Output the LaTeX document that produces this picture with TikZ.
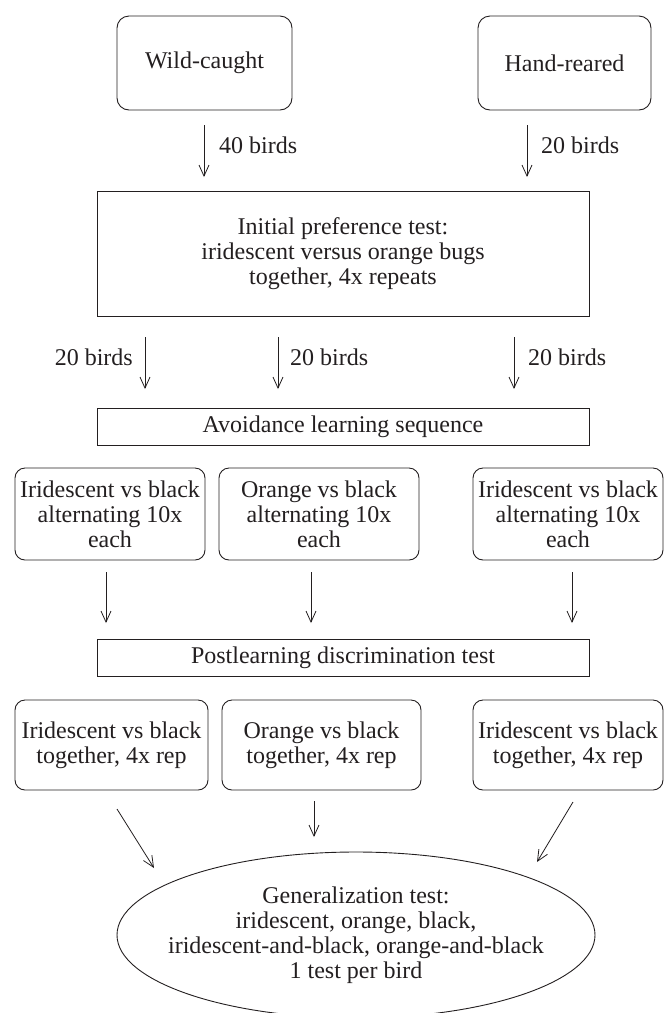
\documentclass[tikz,border=0pt]{standalone}
\usepackage{fontspec}
\setmainfont{Liberation Serif}
\usetikzlibrary{shapes.geometric,arrows.meta,calc}
\definecolor{ink}{HTML}{231F20}
\tikzset{
  every node/.style={font=\fontsize{24}{25}\selectfont, text=ink},
  rbox/.style={draw=ink, line width=0.9pt, rounded corners=12pt, align=center, inner sep=0pt},
  sbox/.style={draw=ink, line width=0.9pt, align=center, inner sep=0pt},
  ebox/.style={draw=ink, line width=0.9pt, ellipse, inner sep=0pt},
  lbl/.style={inner sep=0pt},
  arr/.style={draw=ink, line width=0.8pt, -{Straight Barb[length=11pt,width=10pt,line width=0.8pt]}}
}
\begin{document}
\begin{tikzpicture}[x=1pt,y=-1pt]
\useasboundingbox (0,0) rectangle (664,1013);
\clip (0,0) rectangle (664,1013);
% row 1
\node[rbox, minimum width=175pt, minimum height=94pt] (wild) at (204.5,63) {Wild-caught};
\node[rbox, minimum width=173pt, minimum height=94pt] (hand) at (564.5,63) {Hand-reared};
\node[sbox, minimum width=492pt, minimum height=125pt] (init) at (343,253.5)
  {Initial preference test:\\iridescent versus orange bugs\\together, 4x repeats};
\coordinate (a1s) at (204,125); \coordinate (a1e) at (204,177);
\coordinate (a2s) at (527,125); \coordinate (a2e) at (527,177);
\draw[arr] (a1s) -- (a1e);
\draw[arr] (a2s) -- (a2e);
\node[lbl, anchor=west] (l1) at (219,145) {40 birds};
\node[lbl, anchor=west] (l2) at (541,145) {20 birds};
% row 2
\node[sbox, minimum width=492pt, minimum height=37pt] (avoid) at (343,426.5) {Avoidance learning sequence};
\coordinate (b1s) at (145,337); \coordinate (b1e) at (145,389);
\coordinate (b2s) at (278,337); \coordinate (b2e) at (278,389);
\coordinate (b3s) at (514,337); \coordinate (b3e) at (514,389);
\draw[arr] (b1s) -- (b1e);
\draw[arr] (b2s) -- (b2e);
\draw[arr] (b3s) -- (b3e);
\node[lbl, anchor=east] (l3) at (133,357) {20 birds};
\node[lbl, anchor=west] (l4) at (290,357) {20 birds};
\node[lbl, anchor=west] (l5) at (528,357) {20 birds};
% learning boxes
\node[rbox, rounded corners=10pt, minimum width=190pt, minimum height=92pt] (L1) at (110,514)
  {Iridescent vs black\\alternating 10x\\each};
\node[rbox, rounded corners=10pt, minimum width=200pt, minimum height=92pt] (L2) at (319,514)
  {Orange vs black\\alternating 10x\\each};
\node[rbox, rounded corners=10pt, minimum width=190pt, minimum height=92pt] (L3) at (568,514)
  {Iridescent vs black\\alternating 10x\\each};
% postlearning
\node[sbox, minimum width=492pt, minimum height=37pt] (post) at (343,657.5) {Postlearning discrimination test};
\coordinate (c1s) at (106,572); \coordinate (c1e) at (106,623);
\coordinate (c2s) at (311,572); \coordinate (c2e) at (311,623);
\coordinate (c3s) at (572,572); \coordinate (c3e) at (572,623);
\draw[arr] (c1s) -- (c1e);
\draw[arr] (c2s) -- (c2e);
\draw[arr] (c3s) -- (c3e);
% test boxes
\node[rbox, rounded corners=10pt, minimum width=193pt, minimum height=90pt] (T1) at (111.5,745)
  {Iridescent vs black\\together, 4x rep};
\node[rbox, rounded corners=10pt, minimum width=199pt, minimum height=90pt] (T2) at (321.5,745)
  {Orange vs black\\together, 4x rep};
\node[rbox, rounded corners=10pt, minimum width=190pt, minimum height=90pt] (T3) at (568,745)
  {Iridescent vs black\\together, 4x rep};
% generalization
\node[ebox, minimum width=478pt, minimum height=166pt] (gen) at (356,935) {};
\node[align=center, inner sep=0pt] (gentext) at (gen.center)
  {Generalization test:\\iridescent, orange, black,\\iridescent-and-black, orange-and-black\\1 test per bird};
\coordinate (d1s) at (117,809); \coordinate (d1e) at (154,868);
\coordinate (d2s) at (314,801); \coordinate (d2e) at (314,837);
\coordinate (d3s) at (573,802); \coordinate (d3e) at (537,862);
\draw[arr] (d1s) -- (d1e);
\draw[arr] (d2s) -- (d2e);
\draw[arr] (d3s) -- (d3e);
\end{tikzpicture}
\end{document}
